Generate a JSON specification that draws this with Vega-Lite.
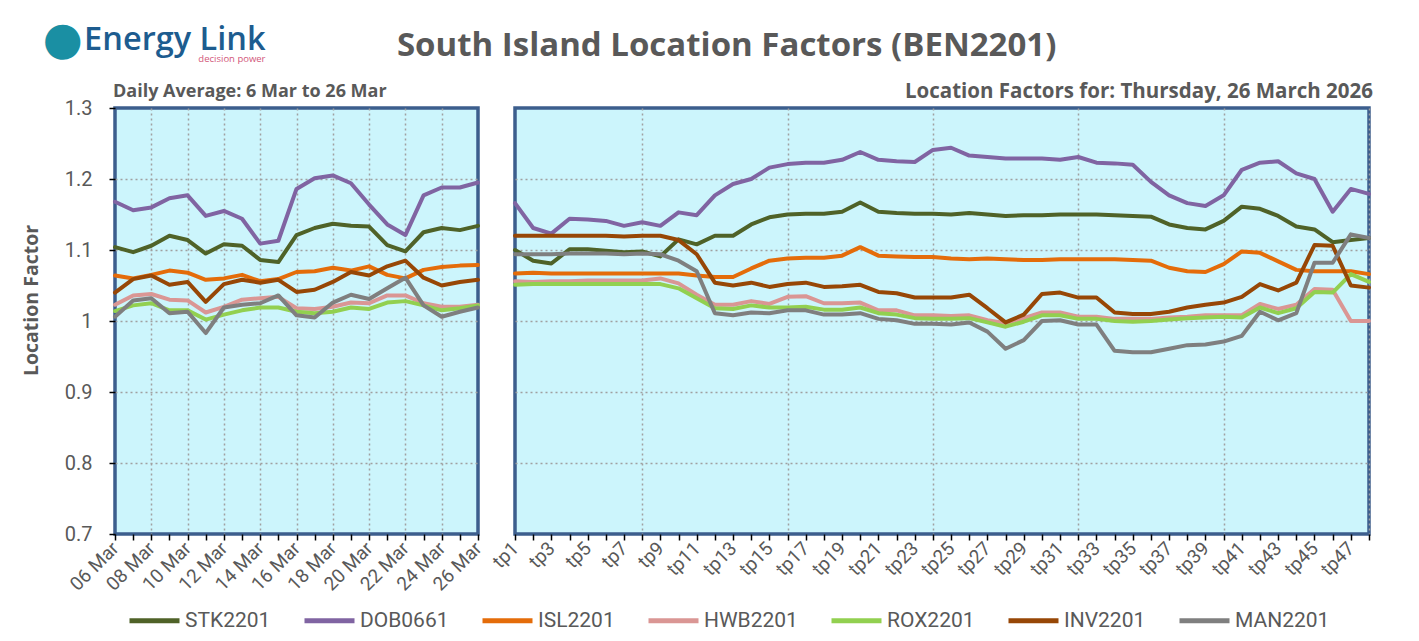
{
  "$schema": "https://vega.github.io/schema/vega-lite/v6.json",
  "background": "white",
  "padding": {"left": 19, "top": 16, "right": 40, "bottom": 5},
  "title": {
    "text": "●",
    "anchor": "start",
    "frame": "bounds",
    "offset": -40,
    "dx": 23,
    "font": "DejaVu Sans",
    "fontSize": 46,
    "fontWeight": "normal",
    "color": "#1A8FA3"
  },
  "datasets": {
    "daily": [
      {"day": "06 Mar", "series": "STK2201", "value": 1.104},
      {"day": "07 Mar", "series": "STK2201", "value": 1.097},
      {"day": "08 Mar", "series": "STK2201", "value": 1.106},
      {"day": "09 Mar", "series": "STK2201", "value": 1.120},
      {"day": "10 Mar", "series": "STK2201", "value": 1.114},
      {"day": "11 Mar", "series": "STK2201", "value": 1.095},
      {"day": "12 Mar", "series": "STK2201", "value": 1.108},
      {"day": "13 Mar", "series": "STK2201", "value": 1.106},
      {"day": "14 Mar", "series": "STK2201", "value": 1.086},
      {"day": "15 Mar", "series": "STK2201", "value": 1.083},
      {"day": "16 Mar", "series": "STK2201", "value": 1.121},
      {"day": "17 Mar", "series": "STK2201", "value": 1.131},
      {"day": "18 Mar", "series": "STK2201", "value": 1.137},
      {"day": "19 Mar", "series": "STK2201", "value": 1.134},
      {"day": "20 Mar", "series": "STK2201", "value": 1.133},
      {"day": "21 Mar", "series": "STK2201", "value": 1.107},
      {"day": "22 Mar", "series": "STK2201", "value": 1.098},
      {"day": "23 Mar", "series": "STK2201", "value": 1.125},
      {"day": "24 Mar", "series": "STK2201", "value": 1.131},
      {"day": "25 Mar", "series": "STK2201", "value": 1.128},
      {"day": "26 Mar", "series": "STK2201", "value": 1.134},
      {"day": "06 Mar", "series": "DOB0661", "value": 1.168},
      {"day": "07 Mar", "series": "DOB0661", "value": 1.156},
      {"day": "08 Mar", "series": "DOB0661", "value": 1.160},
      {"day": "09 Mar", "series": "DOB0661", "value": 1.173},
      {"day": "10 Mar", "series": "DOB0661", "value": 1.177},
      {"day": "11 Mar", "series": "DOB0661", "value": 1.148},
      {"day": "12 Mar", "series": "DOB0661", "value": 1.155},
      {"day": "13 Mar", "series": "DOB0661", "value": 1.144},
      {"day": "14 Mar", "series": "DOB0661", "value": 1.109},
      {"day": "15 Mar", "series": "DOB0661", "value": 1.113},
      {"day": "16 Mar", "series": "DOB0661", "value": 1.186},
      {"day": "17 Mar", "series": "DOB0661", "value": 1.201},
      {"day": "18 Mar", "series": "DOB0661", "value": 1.205},
      {"day": "19 Mar", "series": "DOB0661", "value": 1.194},
      {"day": "20 Mar", "series": "DOB0661", "value": 1.164},
      {"day": "21 Mar", "series": "DOB0661", "value": 1.136},
      {"day": "22 Mar", "series": "DOB0661", "value": 1.121},
      {"day": "23 Mar", "series": "DOB0661", "value": 1.177},
      {"day": "24 Mar", "series": "DOB0661", "value": 1.188},
      {"day": "25 Mar", "series": "DOB0661", "value": 1.188},
      {"day": "26 Mar", "series": "DOB0661", "value": 1.195},
      {"day": "06 Mar", "series": "ISL2201", "value": 1.064},
      {"day": "07 Mar", "series": "ISL2201", "value": 1.060},
      {"day": "08 Mar", "series": "ISL2201", "value": 1.065},
      {"day": "09 Mar", "series": "ISL2201", "value": 1.071},
      {"day": "10 Mar", "series": "ISL2201", "value": 1.068},
      {"day": "11 Mar", "series": "ISL2201", "value": 1.058},
      {"day": "12 Mar", "series": "ISL2201", "value": 1.060},
      {"day": "13 Mar", "series": "ISL2201", "value": 1.065},
      {"day": "14 Mar", "series": "ISL2201", "value": 1.056},
      {"day": "15 Mar", "series": "ISL2201", "value": 1.059},
      {"day": "16 Mar", "series": "ISL2201", "value": 1.069},
      {"day": "17 Mar", "series": "ISL2201", "value": 1.070},
      {"day": "18 Mar", "series": "ISL2201", "value": 1.075},
      {"day": "19 Mar", "series": "ISL2201", "value": 1.071},
      {"day": "20 Mar", "series": "ISL2201", "value": 1.077},
      {"day": "21 Mar", "series": "ISL2201", "value": 1.065},
      {"day": "22 Mar", "series": "ISL2201", "value": 1.060},
      {"day": "23 Mar", "series": "ISL2201", "value": 1.072},
      {"day": "24 Mar", "series": "ISL2201", "value": 1.076},
      {"day": "25 Mar", "series": "ISL2201", "value": 1.078},
      {"day": "26 Mar", "series": "ISL2201", "value": 1.079},
      {"day": "06 Mar", "series": "HWB2201", "value": 1.023},
      {"day": "07 Mar", "series": "HWB2201", "value": 1.036},
      {"day": "08 Mar", "series": "HWB2201", "value": 1.038},
      {"day": "09 Mar", "series": "HWB2201", "value": 1.030},
      {"day": "10 Mar", "series": "HWB2201", "value": 1.029},
      {"day": "11 Mar", "series": "HWB2201", "value": 1.012},
      {"day": "12 Mar", "series": "HWB2201", "value": 1.020},
      {"day": "13 Mar", "series": "HWB2201", "value": 1.030},
      {"day": "14 Mar", "series": "HWB2201", "value": 1.032},
      {"day": "15 Mar", "series": "HWB2201", "value": 1.034},
      {"day": "16 Mar", "series": "HWB2201", "value": 1.018},
      {"day": "17 Mar", "series": "HWB2201", "value": 1.017},
      {"day": "18 Mar", "series": "HWB2201", "value": 1.020},
      {"day": "19 Mar", "series": "HWB2201", "value": 1.026},
      {"day": "20 Mar", "series": "HWB2201", "value": 1.025},
      {"day": "21 Mar", "series": "HWB2201", "value": 1.036},
      {"day": "22 Mar", "series": "HWB2201", "value": 1.036},
      {"day": "23 Mar", "series": "HWB2201", "value": 1.025},
      {"day": "24 Mar", "series": "HWB2201", "value": 1.020},
      {"day": "25 Mar", "series": "HWB2201", "value": 1.020},
      {"day": "26 Mar", "series": "HWB2201", "value": 1.023},
      {"day": "06 Mar", "series": "ROX2201", "value": 1.014},
      {"day": "07 Mar", "series": "ROX2201", "value": 1.022},
      {"day": "08 Mar", "series": "ROX2201", "value": 1.025},
      {"day": "09 Mar", "series": "ROX2201", "value": 1.015},
      {"day": "10 Mar", "series": "ROX2201", "value": 1.015},
      {"day": "11 Mar", "series": "ROX2201", "value": 1.002},
      {"day": "12 Mar", "series": "ROX2201", "value": 1.009},
      {"day": "13 Mar", "series": "ROX2201", "value": 1.015},
      {"day": "14 Mar", "series": "ROX2201", "value": 1.019},
      {"day": "15 Mar", "series": "ROX2201", "value": 1.019},
      {"day": "16 Mar", "series": "ROX2201", "value": 1.013},
      {"day": "17 Mar", "series": "ROX2201", "value": 1.011},
      {"day": "18 Mar", "series": "ROX2201", "value": 1.013},
      {"day": "19 Mar", "series": "ROX2201", "value": 1.019},
      {"day": "20 Mar", "series": "ROX2201", "value": 1.017},
      {"day": "21 Mar", "series": "ROX2201", "value": 1.026},
      {"day": "22 Mar", "series": "ROX2201", "value": 1.028},
      {"day": "23 Mar", "series": "ROX2201", "value": 1.022},
      {"day": "24 Mar", "series": "ROX2201", "value": 1.015},
      {"day": "25 Mar", "series": "ROX2201", "value": 1.018},
      {"day": "26 Mar", "series": "ROX2201", "value": 1.022},
      {"day": "06 Mar", "series": "INV2201", "value": 1.040},
      {"day": "07 Mar", "series": "INV2201", "value": 1.059},
      {"day": "08 Mar", "series": "INV2201", "value": 1.064},
      {"day": "09 Mar", "series": "INV2201", "value": 1.051},
      {"day": "10 Mar", "series": "INV2201", "value": 1.055},
      {"day": "11 Mar", "series": "INV2201", "value": 1.027},
      {"day": "12 Mar", "series": "INV2201", "value": 1.052},
      {"day": "13 Mar", "series": "INV2201", "value": 1.058},
      {"day": "14 Mar", "series": "INV2201", "value": 1.054},
      {"day": "15 Mar", "series": "INV2201", "value": 1.058},
      {"day": "16 Mar", "series": "INV2201", "value": 1.041},
      {"day": "17 Mar", "series": "INV2201", "value": 1.044},
      {"day": "18 Mar", "series": "INV2201", "value": 1.055},
      {"day": "19 Mar", "series": "INV2201", "value": 1.069},
      {"day": "20 Mar", "series": "INV2201", "value": 1.064},
      {"day": "21 Mar", "series": "INV2201", "value": 1.077},
      {"day": "22 Mar", "series": "INV2201", "value": 1.085},
      {"day": "23 Mar", "series": "INV2201", "value": 1.061},
      {"day": "24 Mar", "series": "INV2201", "value": 1.050},
      {"day": "25 Mar", "series": "INV2201", "value": 1.055},
      {"day": "26 Mar", "series": "INV2201", "value": 1.058},
      {"day": "06 Mar", "series": "MAN2201", "value": 1.006},
      {"day": "07 Mar", "series": "MAN2201", "value": 1.029},
      {"day": "08 Mar", "series": "MAN2201", "value": 1.032},
      {"day": "09 Mar", "series": "MAN2201", "value": 1.011},
      {"day": "10 Mar", "series": "MAN2201", "value": 1.013},
      {"day": "11 Mar", "series": "MAN2201", "value": 0.983},
      {"day": "12 Mar", "series": "MAN2201", "value": 1.019},
      {"day": "13 Mar", "series": "MAN2201", "value": 1.023},
      {"day": "14 Mar", "series": "MAN2201", "value": 1.025},
      {"day": "15 Mar", "series": "MAN2201", "value": 1.036},
      {"day": "16 Mar", "series": "MAN2201", "value": 1.008},
      {"day": "17 Mar", "series": "MAN2201", "value": 1.005},
      {"day": "18 Mar", "series": "MAN2201", "value": 1.026},
      {"day": "19 Mar", "series": "MAN2201", "value": 1.037},
      {"day": "20 Mar", "series": "MAN2201", "value": 1.031},
      {"day": "21 Mar", "series": "MAN2201", "value": 1.046},
      {"day": "22 Mar", "series": "MAN2201", "value": 1.061},
      {"day": "23 Mar", "series": "MAN2201", "value": 1.022},
      {"day": "24 Mar", "series": "MAN2201", "value": 1.006},
      {"day": "25 Mar", "series": "MAN2201", "value": 1.013},
      {"day": "26 Mar", "series": "MAN2201", "value": 1.019}
    ],
    "tp": [
      {"tp": "tp1", "series": "STK2201", "value": 1.100},
      {"tp": "tp2", "series": "STK2201", "value": 1.085},
      {"tp": "tp3", "series": "STK2201", "value": 1.081},
      {"tp": "tp4", "series": "STK2201", "value": 1.101},
      {"tp": "tp5", "series": "STK2201", "value": 1.101},
      {"tp": "tp6", "series": "STK2201", "value": 1.099},
      {"tp": "tp7", "series": "STK2201", "value": 1.097},
      {"tp": "tp8", "series": "STK2201", "value": 1.098},
      {"tp": "tp9", "series": "STK2201", "value": 1.091},
      {"tp": "tp10", "series": "STK2201", "value": 1.115},
      {"tp": "tp11", "series": "STK2201", "value": 1.108},
      {"tp": "tp12", "series": "STK2201", "value": 1.120},
      {"tp": "tp13", "series": "STK2201", "value": 1.120},
      {"tp": "tp14", "series": "STK2201", "value": 1.136},
      {"tp": "tp15", "series": "STK2201", "value": 1.146},
      {"tp": "tp16", "series": "STK2201", "value": 1.150},
      {"tp": "tp17", "series": "STK2201", "value": 1.151},
      {"tp": "tp18", "series": "STK2201", "value": 1.151},
      {"tp": "tp19", "series": "STK2201", "value": 1.154},
      {"tp": "tp20", "series": "STK2201", "value": 1.167},
      {"tp": "tp21", "series": "STK2201", "value": 1.154},
      {"tp": "tp22", "series": "STK2201", "value": 1.152},
      {"tp": "tp23", "series": "STK2201", "value": 1.151},
      {"tp": "tp24", "series": "STK2201", "value": 1.151},
      {"tp": "tp25", "series": "STK2201", "value": 1.150},
      {"tp": "tp26", "series": "STK2201", "value": 1.152},
      {"tp": "tp27", "series": "STK2201", "value": 1.150},
      {"tp": "tp28", "series": "STK2201", "value": 1.148},
      {"tp": "tp29", "series": "STK2201", "value": 1.149},
      {"tp": "tp30", "series": "STK2201", "value": 1.149},
      {"tp": "tp31", "series": "STK2201", "value": 1.150},
      {"tp": "tp32", "series": "STK2201", "value": 1.150},
      {"tp": "tp33", "series": "STK2201", "value": 1.150},
      {"tp": "tp34", "series": "STK2201", "value": 1.149},
      {"tp": "tp35", "series": "STK2201", "value": 1.148},
      {"tp": "tp36", "series": "STK2201", "value": 1.147},
      {"tp": "tp37", "series": "STK2201", "value": 1.136},
      {"tp": "tp38", "series": "STK2201", "value": 1.131},
      {"tp": "tp39", "series": "STK2201", "value": 1.129},
      {"tp": "tp40", "series": "STK2201", "value": 1.141},
      {"tp": "tp41", "series": "STK2201", "value": 1.161},
      {"tp": "tp42", "series": "STK2201", "value": 1.158},
      {"tp": "tp43", "series": "STK2201", "value": 1.148},
      {"tp": "tp44", "series": "STK2201", "value": 1.133},
      {"tp": "tp45", "series": "STK2201", "value": 1.129},
      {"tp": "tp46", "series": "STK2201", "value": 1.111},
      {"tp": "tp47", "series": "STK2201", "value": 1.114},
      {"tp": "tp48", "series": "STK2201", "value": 1.117},
      {"tp": "tp1", "series": "DOB0661", "value": 1.166},
      {"tp": "tp2", "series": "DOB0661", "value": 1.131},
      {"tp": "tp3", "series": "DOB0661", "value": 1.123},
      {"tp": "tp4", "series": "DOB0661", "value": 1.144},
      {"tp": "tp5", "series": "DOB0661", "value": 1.143},
      {"tp": "tp6", "series": "DOB0661", "value": 1.141},
      {"tp": "tp7", "series": "DOB0661", "value": 1.134},
      {"tp": "tp8", "series": "DOB0661", "value": 1.139},
      {"tp": "tp9", "series": "DOB0661", "value": 1.134},
      {"tp": "tp10", "series": "DOB0661", "value": 1.153},
      {"tp": "tp11", "series": "DOB0661", "value": 1.149},
      {"tp": "tp12", "series": "DOB0661", "value": 1.177},
      {"tp": "tp13", "series": "DOB0661", "value": 1.193},
      {"tp": "tp14", "series": "DOB0661", "value": 1.200},
      {"tp": "tp15", "series": "DOB0661", "value": 1.216},
      {"tp": "tp16", "series": "DOB0661", "value": 1.221},
      {"tp": "tp17", "series": "DOB0661", "value": 1.223},
      {"tp": "tp18", "series": "DOB0661", "value": 1.223},
      {"tp": "tp19", "series": "DOB0661", "value": 1.227},
      {"tp": "tp20", "series": "DOB0661", "value": 1.238},
      {"tp": "tp21", "series": "DOB0661", "value": 1.227},
      {"tp": "tp22", "series": "DOB0661", "value": 1.225},
      {"tp": "tp23", "series": "DOB0661", "value": 1.224},
      {"tp": "tp24", "series": "DOB0661", "value": 1.241},
      {"tp": "tp25", "series": "DOB0661", "value": 1.244},
      {"tp": "tp26", "series": "DOB0661", "value": 1.233},
      {"tp": "tp27", "series": "DOB0661", "value": 1.231},
      {"tp": "tp28", "series": "DOB0661", "value": 1.229},
      {"tp": "tp29", "series": "DOB0661", "value": 1.229},
      {"tp": "tp30", "series": "DOB0661", "value": 1.229},
      {"tp": "tp31", "series": "DOB0661", "value": 1.227},
      {"tp": "tp32", "series": "DOB0661", "value": 1.231},
      {"tp": "tp33", "series": "DOB0661", "value": 1.223},
      {"tp": "tp34", "series": "DOB0661", "value": 1.222},
      {"tp": "tp35", "series": "DOB0661", "value": 1.220},
      {"tp": "tp36", "series": "DOB0661", "value": 1.196},
      {"tp": "tp37", "series": "DOB0661", "value": 1.177},
      {"tp": "tp38", "series": "DOB0661", "value": 1.166},
      {"tp": "tp39", "series": "DOB0661", "value": 1.162},
      {"tp": "tp40", "series": "DOB0661", "value": 1.177},
      {"tp": "tp41", "series": "DOB0661", "value": 1.213},
      {"tp": "tp42", "series": "DOB0661", "value": 1.223},
      {"tp": "tp43", "series": "DOB0661", "value": 1.225},
      {"tp": "tp44", "series": "DOB0661", "value": 1.208},
      {"tp": "tp45", "series": "DOB0661", "value": 1.200},
      {"tp": "tp46", "series": "DOB0661", "value": 1.154},
      {"tp": "tp47", "series": "DOB0661", "value": 1.186},
      {"tp": "tp48", "series": "DOB0661", "value": 1.179},
      {"tp": "tp1", "series": "ISL2201", "value": 1.067},
      {"tp": "tp2", "series": "ISL2201", "value": 1.068},
      {"tp": "tp3", "series": "ISL2201", "value": 1.067},
      {"tp": "tp4", "series": "ISL2201", "value": 1.067},
      {"tp": "tp5", "series": "ISL2201", "value": 1.067},
      {"tp": "tp6", "series": "ISL2201", "value": 1.067},
      {"tp": "tp7", "series": "ISL2201", "value": 1.067},
      {"tp": "tp8", "series": "ISL2201", "value": 1.067},
      {"tp": "tp9", "series": "ISL2201", "value": 1.067},
      {"tp": "tp10", "series": "ISL2201", "value": 1.067},
      {"tp": "tp11", "series": "ISL2201", "value": 1.064},
      {"tp": "tp12", "series": "ISL2201", "value": 1.062},
      {"tp": "tp13", "series": "ISL2201", "value": 1.062},
      {"tp": "tp14", "series": "ISL2201", "value": 1.074},
      {"tp": "tp15", "series": "ISL2201", "value": 1.085},
      {"tp": "tp16", "series": "ISL2201", "value": 1.088},
      {"tp": "tp17", "series": "ISL2201", "value": 1.089},
      {"tp": "tp18", "series": "ISL2201", "value": 1.089},
      {"tp": "tp19", "series": "ISL2201", "value": 1.092},
      {"tp": "tp20", "series": "ISL2201", "value": 1.104},
      {"tp": "tp21", "series": "ISL2201", "value": 1.092},
      {"tp": "tp22", "series": "ISL2201", "value": 1.091},
      {"tp": "tp23", "series": "ISL2201", "value": 1.090},
      {"tp": "tp24", "series": "ISL2201", "value": 1.090},
      {"tp": "tp25", "series": "ISL2201", "value": 1.088},
      {"tp": "tp26", "series": "ISL2201", "value": 1.087},
      {"tp": "tp27", "series": "ISL2201", "value": 1.088},
      {"tp": "tp28", "series": "ISL2201", "value": 1.087},
      {"tp": "tp29", "series": "ISL2201", "value": 1.086},
      {"tp": "tp30", "series": "ISL2201", "value": 1.086},
      {"tp": "tp31", "series": "ISL2201", "value": 1.087},
      {"tp": "tp32", "series": "ISL2201", "value": 1.087},
      {"tp": "tp33", "series": "ISL2201", "value": 1.087},
      {"tp": "tp34", "series": "ISL2201", "value": 1.087},
      {"tp": "tp35", "series": "ISL2201", "value": 1.086},
      {"tp": "tp36", "series": "ISL2201", "value": 1.085},
      {"tp": "tp37", "series": "ISL2201", "value": 1.075},
      {"tp": "tp38", "series": "ISL2201", "value": 1.070},
      {"tp": "tp39", "series": "ISL2201", "value": 1.069},
      {"tp": "tp40", "series": "ISL2201", "value": 1.080},
      {"tp": "tp41", "series": "ISL2201", "value": 1.098},
      {"tp": "tp42", "series": "ISL2201", "value": 1.096},
      {"tp": "tp43", "series": "ISL2201", "value": 1.084},
      {"tp": "tp44", "series": "ISL2201", "value": 1.072},
      {"tp": "tp45", "series": "ISL2201", "value": 1.070},
      {"tp": "tp46", "series": "ISL2201", "value": 1.070},
      {"tp": "tp47", "series": "ISL2201", "value": 1.070},
      {"tp": "tp48", "series": "ISL2201", "value": 1.066},
      {"tp": "tp1", "series": "HWB2201", "value": 1.056},
      {"tp": "tp2", "series": "HWB2201", "value": 1.055},
      {"tp": "tp3", "series": "HWB2201", "value": 1.056},
      {"tp": "tp4", "series": "HWB2201", "value": 1.056},
      {"tp": "tp5", "series": "HWB2201", "value": 1.057},
      {"tp": "tp6", "series": "HWB2201", "value": 1.057},
      {"tp": "tp7", "series": "HWB2201", "value": 1.057},
      {"tp": "tp8", "series": "HWB2201", "value": 1.057},
      {"tp": "tp9", "series": "HWB2201", "value": 1.060},
      {"tp": "tp10", "series": "HWB2201", "value": 1.053},
      {"tp": "tp11", "series": "HWB2201", "value": 1.037},
      {"tp": "tp12", "series": "HWB2201", "value": 1.023},
      {"tp": "tp13", "series": "HWB2201", "value": 1.023},
      {"tp": "tp14", "series": "HWB2201", "value": 1.028},
      {"tp": "tp15", "series": "HWB2201", "value": 1.024},
      {"tp": "tp16", "series": "HWB2201", "value": 1.034},
      {"tp": "tp17", "series": "HWB2201", "value": 1.035},
      {"tp": "tp18", "series": "HWB2201", "value": 1.025},
      {"tp": "tp19", "series": "HWB2201", "value": 1.025},
      {"tp": "tp20", "series": "HWB2201", "value": 1.026},
      {"tp": "tp21", "series": "HWB2201", "value": 1.015},
      {"tp": "tp22", "series": "HWB2201", "value": 1.015},
      {"tp": "tp23", "series": "HWB2201", "value": 1.008},
      {"tp": "tp24", "series": "HWB2201", "value": 1.008},
      {"tp": "tp25", "series": "HWB2201", "value": 1.007},
      {"tp": "tp26", "series": "HWB2201", "value": 1.008},
      {"tp": "tp27", "series": "HWB2201", "value": 1.001},
      {"tp": "tp28", "series": "HWB2201", "value": 0.997},
      {"tp": "tp29", "series": "HWB2201", "value": 1.004},
      {"tp": "tp30", "series": "HWB2201", "value": 1.012},
      {"tp": "tp31", "series": "HWB2201", "value": 1.012},
      {"tp": "tp32", "series": "HWB2201", "value": 1.006},
      {"tp": "tp33", "series": "HWB2201", "value": 1.006},
      {"tp": "tp34", "series": "HWB2201", "value": 1.003},
      {"tp": "tp35", "series": "HWB2201", "value": 1.003},
      {"tp": "tp36", "series": "HWB2201", "value": 1.003},
      {"tp": "tp37", "series": "HWB2201", "value": 1.005},
      {"tp": "tp38", "series": "HWB2201", "value": 1.006},
      {"tp": "tp39", "series": "HWB2201", "value": 1.008},
      {"tp": "tp40", "series": "HWB2201", "value": 1.008},
      {"tp": "tp41", "series": "HWB2201", "value": 1.008},
      {"tp": "tp42", "series": "HWB2201", "value": 1.024},
      {"tp": "tp43", "series": "HWB2201", "value": 1.017},
      {"tp": "tp44", "series": "HWB2201", "value": 1.023},
      {"tp": "tp45", "series": "HWB2201", "value": 1.045},
      {"tp": "tp46", "series": "HWB2201", "value": 1.044},
      {"tp": "tp47", "series": "HWB2201", "value": 1.000},
      {"tp": "tp48", "series": "HWB2201", "value": 1.000},
      {"tp": "tp1", "series": "ROX2201", "value": 1.051},
      {"tp": "tp2", "series": "ROX2201", "value": 1.052},
      {"tp": "tp3", "series": "ROX2201", "value": 1.052},
      {"tp": "tp4", "series": "ROX2201", "value": 1.052},
      {"tp": "tp5", "series": "ROX2201", "value": 1.052},
      {"tp": "tp6", "series": "ROX2201", "value": 1.052},
      {"tp": "tp7", "series": "ROX2201", "value": 1.052},
      {"tp": "tp8", "series": "ROX2201", "value": 1.052},
      {"tp": "tp9", "series": "ROX2201", "value": 1.052},
      {"tp": "tp10", "series": "ROX2201", "value": 1.046},
      {"tp": "tp11", "series": "ROX2201", "value": 1.032},
      {"tp": "tp12", "series": "ROX2201", "value": 1.018},
      {"tp": "tp13", "series": "ROX2201", "value": 1.017},
      {"tp": "tp14", "series": "ROX2201", "value": 1.022},
      {"tp": "tp15", "series": "ROX2201", "value": 1.019},
      {"tp": "tp16", "series": "ROX2201", "value": 1.019},
      {"tp": "tp17", "series": "ROX2201", "value": 1.020},
      {"tp": "tp18", "series": "ROX2201", "value": 1.016},
      {"tp": "tp19", "series": "ROX2201", "value": 1.016},
      {"tp": "tp20", "series": "ROX2201", "value": 1.019},
      {"tp": "tp21", "series": "ROX2201", "value": 1.011},
      {"tp": "tp22", "series": "ROX2201", "value": 1.009},
      {"tp": "tp23", "series": "ROX2201", "value": 1.004},
      {"tp": "tp24", "series": "ROX2201", "value": 1.003},
      {"tp": "tp25", "series": "ROX2201", "value": 1.003},
      {"tp": "tp26", "series": "ROX2201", "value": 1.004},
      {"tp": "tp27", "series": "ROX2201", "value": 0.998},
      {"tp": "tp28", "series": "ROX2201", "value": 0.992},
      {"tp": "tp29", "series": "ROX2201", "value": 0.999},
      {"tp": "tp30", "series": "ROX2201", "value": 1.008},
      {"tp": "tp31", "series": "ROX2201", "value": 1.008},
      {"tp": "tp32", "series": "ROX2201", "value": 1.003},
      {"tp": "tp33", "series": "ROX2201", "value": 1.003},
      {"tp": "tp34", "series": "ROX2201", "value": 1.000},
      {"tp": "tp35", "series": "ROX2201", "value": 0.999},
      {"tp": "tp36", "series": "ROX2201", "value": 1.000},
      {"tp": "tp37", "series": "ROX2201", "value": 1.002},
      {"tp": "tp38", "series": "ROX2201", "value": 1.004},
      {"tp": "tp39", "series": "ROX2201", "value": 1.005},
      {"tp": "tp40", "series": "ROX2201", "value": 1.006},
      {"tp": "tp41", "series": "ROX2201", "value": 1.005},
      {"tp": "tp42", "series": "ROX2201", "value": 1.019},
      {"tp": "tp43", "series": "ROX2201", "value": 1.011},
      {"tp": "tp44", "series": "ROX2201", "value": 1.018},
      {"tp": "tp45", "series": "ROX2201", "value": 1.041},
      {"tp": "tp46", "series": "ROX2201", "value": 1.040},
      {"tp": "tp47", "series": "ROX2201", "value": 1.066},
      {"tp": "tp48", "series": "ROX2201", "value": 1.055},
      {"tp": "tp1", "series": "INV2201", "value": 1.120},
      {"tp": "tp2", "series": "INV2201", "value": 1.120},
      {"tp": "tp3", "series": "INV2201", "value": 1.120},
      {"tp": "tp4", "series": "INV2201", "value": 1.120},
      {"tp": "tp5", "series": "INV2201", "value": 1.120},
      {"tp": "tp6", "series": "INV2201", "value": 1.120},
      {"tp": "tp7", "series": "INV2201", "value": 1.119},
      {"tp": "tp8", "series": "INV2201", "value": 1.120},
      {"tp": "tp9", "series": "INV2201", "value": 1.120},
      {"tp": "tp10", "series": "INV2201", "value": 1.114},
      {"tp": "tp11", "series": "INV2201", "value": 1.094},
      {"tp": "tp12", "series": "INV2201", "value": 1.054},
      {"tp": "tp13", "series": "INV2201", "value": 1.050},
      {"tp": "tp14", "series": "INV2201", "value": 1.054},
      {"tp": "tp15", "series": "INV2201", "value": 1.048},
      {"tp": "tp16", "series": "INV2201", "value": 1.052},
      {"tp": "tp17", "series": "INV2201", "value": 1.054},
      {"tp": "tp18", "series": "INV2201", "value": 1.048},
      {"tp": "tp19", "series": "INV2201", "value": 1.049},
      {"tp": "tp20", "series": "INV2201", "value": 1.051},
      {"tp": "tp21", "series": "INV2201", "value": 1.041},
      {"tp": "tp22", "series": "INV2201", "value": 1.039},
      {"tp": "tp23", "series": "INV2201", "value": 1.033},
      {"tp": "tp24", "series": "INV2201", "value": 1.033},
      {"tp": "tp25", "series": "INV2201", "value": 1.033},
      {"tp": "tp26", "series": "INV2201", "value": 1.037},
      {"tp": "tp27", "series": "INV2201", "value": 1.018},
      {"tp": "tp28", "series": "INV2201", "value": 0.998},
      {"tp": "tp29", "series": "INV2201", "value": 1.009},
      {"tp": "tp30", "series": "INV2201", "value": 1.038},
      {"tp": "tp31", "series": "INV2201", "value": 1.040},
      {"tp": "tp32", "series": "INV2201", "value": 1.033},
      {"tp": "tp33", "series": "INV2201", "value": 1.033},
      {"tp": "tp34", "series": "INV2201", "value": 1.012},
      {"tp": "tp35", "series": "INV2201", "value": 1.010},
      {"tp": "tp36", "series": "INV2201", "value": 1.010},
      {"tp": "tp37", "series": "INV2201", "value": 1.013},
      {"tp": "tp38", "series": "INV2201", "value": 1.019},
      {"tp": "tp39", "series": "INV2201", "value": 1.023},
      {"tp": "tp40", "series": "INV2201", "value": 1.026},
      {"tp": "tp41", "series": "INV2201", "value": 1.034},
      {"tp": "tp42", "series": "INV2201", "value": 1.052},
      {"tp": "tp43", "series": "INV2201", "value": 1.043},
      {"tp": "tp44", "series": "INV2201", "value": 1.054},
      {"tp": "tp45", "series": "INV2201", "value": 1.107},
      {"tp": "tp46", "series": "INV2201", "value": 1.106},
      {"tp": "tp47", "series": "INV2201", "value": 1.050},
      {"tp": "tp48", "series": "INV2201", "value": 1.047},
      {"tp": "tp1", "series": "MAN2201", "value": 1.094},
      {"tp": "tp2", "series": "MAN2201", "value": 1.094},
      {"tp": "tp3", "series": "MAN2201", "value": 1.094},
      {"tp": "tp4", "series": "MAN2201", "value": 1.095},
      {"tp": "tp5", "series": "MAN2201", "value": 1.095},
      {"tp": "tp6", "series": "MAN2201", "value": 1.095},
      {"tp": "tp7", "series": "MAN2201", "value": 1.094},
      {"tp": "tp8", "series": "MAN2201", "value": 1.095},
      {"tp": "tp9", "series": "MAN2201", "value": 1.094},
      {"tp": "tp10", "series": "MAN2201", "value": 1.085},
      {"tp": "tp11", "series": "MAN2201", "value": 1.070},
      {"tp": "tp12", "series": "MAN2201", "value": 1.011},
      {"tp": "tp13", "series": "MAN2201", "value": 1.008},
      {"tp": "tp14", "series": "MAN2201", "value": 1.012},
      {"tp": "tp15", "series": "MAN2201", "value": 1.011},
      {"tp": "tp16", "series": "MAN2201", "value": 1.015},
      {"tp": "tp17", "series": "MAN2201", "value": 1.015},
      {"tp": "tp18", "series": "MAN2201", "value": 1.009},
      {"tp": "tp19", "series": "MAN2201", "value": 1.009},
      {"tp": "tp20", "series": "MAN2201", "value": 1.011},
      {"tp": "tp21", "series": "MAN2201", "value": 1.003},
      {"tp": "tp22", "series": "MAN2201", "value": 1.001},
      {"tp": "tp23", "series": "MAN2201", "value": 0.996},
      {"tp": "tp24", "series": "MAN2201", "value": 0.996},
      {"tp": "tp25", "series": "MAN2201", "value": 0.995},
      {"tp": "tp26", "series": "MAN2201", "value": 0.998},
      {"tp": "tp27", "series": "MAN2201", "value": 0.985},
      {"tp": "tp28", "series": "MAN2201", "value": 0.961},
      {"tp": "tp29", "series": "MAN2201", "value": 0.973},
      {"tp": "tp30", "series": "MAN2201", "value": 1.000},
      {"tp": "tp31", "series": "MAN2201", "value": 1.001},
      {"tp": "tp32", "series": "MAN2201", "value": 0.995},
      {"tp": "tp33", "series": "MAN2201", "value": 0.995},
      {"tp": "tp34", "series": "MAN2201", "value": 0.958},
      {"tp": "tp35", "series": "MAN2201", "value": 0.956},
      {"tp": "tp36", "series": "MAN2201", "value": 0.956},
      {"tp": "tp37", "series": "MAN2201", "value": 0.961},
      {"tp": "tp38", "series": "MAN2201", "value": 0.966},
      {"tp": "tp39", "series": "MAN2201", "value": 0.967},
      {"tp": "tp40", "series": "MAN2201", "value": 0.971},
      {"tp": "tp41", "series": "MAN2201", "value": 0.979},
      {"tp": "tp42", "series": "MAN2201", "value": 1.013},
      {"tp": "tp43", "series": "MAN2201", "value": 1.001},
      {"tp": "tp44", "series": "MAN2201", "value": 1.011},
      {"tp": "tp45", "series": "MAN2201", "value": 1.082},
      {"tp": "tp46", "series": "MAN2201", "value": 1.082},
      {"tp": "tp47", "series": "MAN2201", "value": 1.122},
      {"tp": "tp48", "series": "MAN2201", "value": 1.117}
    ]
  },
  "vconcat": [
    {
      "title": {
        "text": "Energy Link",
        "subtitle": "decision power",
        "anchor": "start",
        "align": "right",
        "frame": "bounds",
        "offset": -34,
        "dx": 246,
        "font": "Open Sans",
        "fontSize": 32.5,
        "fontWeight": 600,
        "color": "#1D5C8F",
        "subtitleFont": "Open Sans",
        "subtitleFontSize": 9.5,
        "subtitleColor": "#D2577A",
        "subtitlePadding": -2
      },
      "vconcat": [
        {
          "title": {
            "text": "South Island Location Factors (BEN2201)",
            "anchor": "middle",
            "font": "Open Sans",
            "fontSize": 33,
            "fontWeight": "bold",
            "color": "#595959",
            "offset": 17,
            "dx": 28
          },
          "spacing": 0,
          "hconcat": [
            {
              "width": 363,
              "height": 426,
              "data": {"name": "daily"},
              "title": {
                "text": "Daily Average: 6 Mar to 26 Mar",
                "anchor": "start",
                "frame": "group",
                "font": "Open Sans",
                "fontSize": 18,
                "fontWeight": "bold",
                "color": "#595959",
                "offset": -3,
                "dx": -2
              },
              "mark": {"type": "line", "strokeWidth": 4, "strokeJoin": "round", "strokeCap": "round"},
              "encoding": {
                "x": {
                  "field": "day",
                  "type": "ordinal",
                  "sort": null,
                  "scale": {"type": "point", "padding": 0},
                  "axis": {
                    "title": null,
                    "labelAngle": -45,
                    "labelAlign": "right",
                    "labelBaseline": "middle",
                    "labelOverlap": false,
                    "labelExpr": "parseInt(slice(datum.value, 0, 2)) % 2 == 0 ? datum.value : ''",
                    "grid": true,
                    "gridOpacity": {"condition": {"test": "parseInt(slice(datum.value, 0, 2)) % 2 == 0 && datum.value != '06 Mar' && datum.value != '26 Mar'", "value": 1}, "value": 0}
                  }
                },
                "y": {
                  "field": "value",
                  "type": "quantitative",
                  "scale": {"domain": [0.7, 1.3], "zero": false, "nice": false},
                  "axis": {
                    "values": [0.7, 0.8, 0.9, 1.0, 1.1, 1.2, 1.3],
                    "format": ".1~f",
                    "title": "Location Factor",
                    "titleFont": "Open Sans",
                    "titleFontSize": 19.5,
                    "titleFontWeight": "bold",
                    "titleColor": "#595959",
                    "titlePadding": 23,
                    "titleY": 192,
                    "labelFontSize": 20,
                    "labelPadding": 17,
                    "ticks": true,
                    "gridOpacity": {"condition": {"test": "datum.value > 0.75 && datum.value < 1.25", "value": 1}, "value": 0}
                  }
                },
                "color": {
                  "field": "series",
                  "type": "nominal",
                  "sort": ["STK2201", "DOB0661", "ISL2201", "HWB2201", "ROX2201", "INV2201", "MAN2201"],
                  "scale": {
                    "domain": ["STK2201", "DOB0661", "ISL2201", "HWB2201", "ROX2201", "INV2201", "MAN2201"],
                    "range": ["#4F6228", "#8064A2", "#E46C0A", "#DA9694", "#92D050", "#974706", "#7F7F7F"]
                  },
                  "legend": {
                    "title": null,
                    "orient": "none",
                    "direction": "horizontal",
                    "legendX": 12,
                    "legendY": 485,
                    "symbolType": "stroke",
                    "symbolSize": 2500,
                    "symbolStrokeWidth": 5,
                    "labelFont": "Liberation Sans Narrow, Arial Narrow, Roboto",
                    "labelFontSize": 21,
                    "labelColor": "#595959",
                    "labelOffset": 3,
                    "columnPadding": 23
                  }
                }
              }
            },
            {
              "width": 854,
              "height": 426,
              "data": {"name": "tp"},
              "title": {
                "text": "Location Factors for: Thursday, 26 March 2026",
                "anchor": "end",
                "frame": "group",
                "font": "Open Sans",
                "fontSize": 20.5,
                "fontWeight": "bold",
                "color": "#595959",
                "offset": 6,
                "dx": 4
              },
              "mark": {"type": "line", "strokeWidth": 4, "strokeJoin": "round", "strokeCap": "round"},
              "encoding": {
                "x": {
                  "field": "tp",
                  "type": "ordinal",
                  "sort": null,
                  "scale": {"type": "point", "padding": 0},
                  "axis": {
                    "title": null,
                    "labelAngle": -45,
                    "labelAlign": "right",
                    "labelBaseline": "middle",
                    "labelOverlap": false,
                    "labelExpr": "parseInt(slice(datum.value, 2)) % 2 == 1 ? datum.value : ''",
                    "grid": true,
                    "gridOpacity": {"condition": {"test": "parseInt(slice(datum.value, 2)) % 8 == 0", "value": 1}, "value": 0}
                  }
                },
                "y": {
                  "field": "value",
                  "type": "quantitative",
                  "scale": {"domain": [0.7, 1.3], "zero": false, "nice": false},
                  "axis": {
                    "values": [0.7, 0.8, 0.9, 1.0, 1.1, 1.2, 1.3],
                    "title": null,
                    "labels": false,
                    "ticks": false,
                    "domain": false,
                    "gridOpacity": {"condition": {"test": "datum.value > 0.75 && datum.value < 1.25", "value": 1}, "value": 0}
                  }
                },
                "color": {
                  "field": "series",
                  "type": "nominal",
                  "sort": ["STK2201", "DOB0661", "ISL2201", "HWB2201", "ROX2201", "INV2201", "MAN2201"],
                  "scale": {
                    "domain": ["STK2201", "DOB0661", "ISL2201", "HWB2201", "ROX2201", "INV2201", "MAN2201"],
                    "range": ["#4F6228", "#8064A2", "#E46C0A", "#DA9694", "#92D050", "#974706", "#7F7F7F"]
                  }
                }
              }
            }
          ]
        }
      ]
    }
  ],
  "config": {
    "view": {"fill": "#CCF5FC", "stroke": "#3C5E8D", "strokeWidth": 3.5},
    "axis": {
      "domain": false,
      "labelFont": "Liberation Sans Narrow, Arial Narrow, Roboto",
      "labelColor": "#595959",
      "labelFontSize": 19,
      "labelPadding": 5,
      "tickColor": "#000000",
      "tickSize": 6,
      "tickWidth": 1.5,
      "gridColor": "#A0A0A0",
      "gridDash": [2, 3],
      "gridWidth": 1.5
    }
  }
}
